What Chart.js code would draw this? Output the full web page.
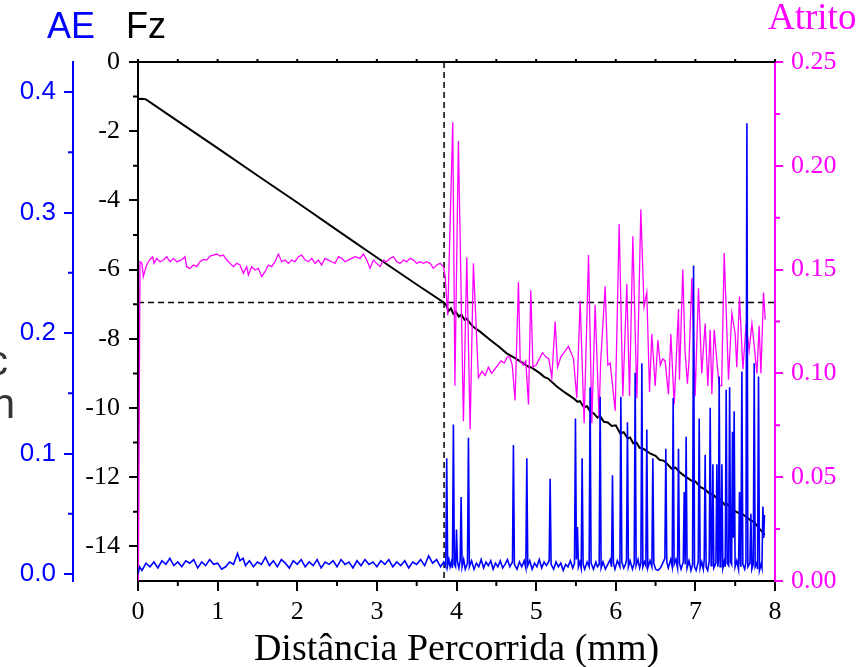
<!DOCTYPE html>
<html>
<head>
<meta charset="utf-8">
<script src="https://cdn.jsdelivr.net/npm/chart.js@4.4.1/dist/chart.umd.min.js"></script>
<style>
  html, body { margin: 0; padding: 0; background: #fff; }
  canvas { display: block; }
</style>
</head>
<body>
<canvas id="grafico" width="867" height="667"></canvas>
<script>
// Ensaio de risco: AE, Fz e atrito contra a distância percorrida.

// ---- Dados: [distância (mm), valor] ----
var fz = [
  [0, -1.07], [0.05, -1.06], [0.10, -1.08], [0.5, -1.71], [1.0, -2.49], [1.5, -3.28],
  [2.0, -4.06], [2.5, -4.86], [3.0, -5.65], [3.5, -6.43], [3.84, -6.95],
  [3.87, -7.02], [3.90, -7.20], [3.93, -7.12], [3.96, -7.28], [3.99, -7.22], [4.03, -7.36],
  [4.06, -7.30], [4.10, -7.45], [4.13, -7.42], [4.17, -7.55], [4.21, -7.65], [4.30, -7.80],
  [4.42, -8.03], [4.53, -8.22], [4.63, -8.42], [4.73, -8.55], [4.84, -8.71], [4.90, -8.80],
  [4.95, -8.84], [5.05, -9.00], [5.10, -9.10], [5.15, -9.15], [5.26, -9.38], [5.36, -9.55],
  [5.47, -9.72], [5.52, -9.82], [5.55, -9.80], [5.60, -9.98], [5.64, -9.95], [5.68, -10.11],
  [5.72, -10.15], [5.77, -10.28], [5.80, -10.22], [5.85, -10.40], [5.90, -10.42], [5.95, -10.52],
  [6.00, -10.50], [6.055, -10.73], [6.10, -10.70], [6.15, -10.88], [6.18, -10.85], [6.22, -11.02],
  [6.26, -11.00], [6.30, -11.15], [6.35, -11.18], [6.43, -11.31], [6.50, -11.38], [6.55, -11.50],
  [6.60, -11.52], [6.64, -11.60], [6.70, -11.75], [6.75, -11.72], [6.80, -11.85], [6.85, -11.94],
  [6.90, -12.02], [6.95, -12.10], [7.00, -12.12], [7.06, -12.28], [7.12, -12.35], [7.18, -12.48],
  [7.22, -12.50], [7.27, -12.61], [7.32, -12.66], [7.37, -12.80], [7.40, -12.78], [7.48, -12.95],
  [7.53, -13.02], [7.58, -13.05], [7.64, -13.15], [7.69, -13.24], [7.74, -13.30], [7.80, -13.48],
  [7.85, -13.60], [7.87, -13.67]
];

var atrito = [
  [0.005, 0.000], [0.025, 0.1538], [0.05, 0.1530], [0.067, 0.1466], [0.10, 0.1514], [0.13, 0.1538],
  [0.151, 0.1549], [0.184, 0.1562], [0.201, 0.1530], [0.234, 0.1554], [0.276, 0.1538], [0.318, 0.1546],
  [0.36, 0.1562], [0.402, 0.1538], [0.444, 0.1554], [0.486, 0.1538], [0.528, 0.1543], [0.57, 0.1554],
  [0.59, 0.1562], [0.611, 0.1514], [0.653, 0.1506], [0.695, 0.1522], [0.737, 0.1514], [0.779, 0.1538],
  [0.821, 0.1549], [0.863, 0.1546], [0.905, 0.1565], [0.946, 0.1570], [0.988, 0.1575], [1.03, 0.1565],
  [1.072, 0.1570], [1.114, 0.1546], [1.156, 0.1530], [1.198, 0.1514], [1.24, 0.1530], [1.281, 0.1522],
  [1.323, 0.1482], [1.365, 0.1514], [1.386, 0.1474], [1.428, 0.1514], [1.47, 0.1498], [1.512, 0.1506],
  [1.554, 0.1466], [1.595, 0.1490], [1.637, 0.1522], [1.679, 0.1514], [1.721, 0.1538], [1.763, 0.1575],
  [1.805, 0.1538], [1.847, 0.1546], [1.889, 0.1530], [1.93, 0.1546], [1.972, 0.1538], [2.014, 0.1562],
  [2.056, 0.1570], [2.098, 0.1546], [2.14, 0.1538], [2.182, 0.1554], [2.224, 0.1530], [2.266, 0.1546],
  [2.307, 0.1522], [2.349, 0.1554], [2.391, 0.1546], [2.433, 0.1538], [2.475, 0.1530], [2.517, 0.1562],
  [2.559, 0.1554], [2.601, 0.1538], [2.642, 0.1546], [2.684, 0.1554], [2.726, 0.1562], [2.789, 0.1554],
  [2.831, 0.1575], [2.873, 0.1546], [2.914, 0.1506], [2.956, 0.1546], [2.998, 0.1530], [3.04, 0.1514],
  [3.082, 0.1546], [3.124, 0.1538], [3.166, 0.1554], [3.208, 0.1562], [3.25, 0.1538], [3.291, 0.1530],
  [3.333, 0.1546], [3.375, 0.1538], [3.417, 0.1554], [3.459, 0.1546], [3.501, 0.1530], [3.543, 0.1538],
  [3.585, 0.1530], [3.626, 0.1538], [3.668, 0.1530], [3.71, 0.1506], [3.752, 0.1522], [3.794, 0.1530],
  [3.836, 0.1514], [3.857, 0.147], [3.89, 0.128], [3.953, 0.221], [3.98, 0.094], [4.024, 0.212],
  [4.087, 0.077], [4.129, 0.156], [4.171, 0.073], [4.212, 0.153], [4.275, 0.098], [4.32, 0.101],
  [4.36, 0.099], [4.40, 0.103], [4.44, 0.100], [4.48, 0.102], [4.52, 0.104], [4.56, 0.106],
  [4.60, 0.105], [4.64, 0.108], [4.67, 0.108], [4.70, 0.104], [4.736, 0.087], [4.778, 0.144],
  [4.80, 0.106], [4.84, 0.104], [4.87, 0.106], [4.904, 0.085], [4.933, 0.140], [4.96, 0.103],
  [5.00, 0.104], [5.04, 0.107], [5.08, 0.110], [5.12, 0.108], [5.16, 0.107], [5.197, 0.098],
  [5.239, 0.125], [5.27, 0.103], [5.31, 0.108], [5.35, 0.110], [5.406, 0.113], [5.44, 0.110],
  [5.469, 0.107], [5.511, 0.088], [5.553, 0.135], [5.603, 0.076], [5.658, 0.157], [5.70, 0.076],
  [5.741, 0.133], [5.79, 0.079], [5.81, 0.105], [5.867, 0.142], [5.90, 0.104], [5.93, 0.105],
  [5.993, 0.082], [6.043, 0.172], [6.089, 0.089], [6.139, 0.143], [6.173, 0.089], [6.215, 0.166],
  [6.265, 0.088], [6.315, 0.179], [6.355, 0.132], [6.39, 0.139], [6.424, 0.091], [6.453, 0.119],
  [6.495, 0.094], [6.529, 0.116], [6.56, 0.104], [6.59, 0.107], [6.62, 0.106], [6.662, 0.090],
  [6.692, 0.119], [6.734, 0.085], [6.788, 0.131], [6.80, 0.097], [6.842, 0.150], [6.87, 0.111],
  [6.90, 0.095], [6.92, 0.106], [6.956, 0.146], [6.997, 0.089], [7.039, 0.141], [7.08, 0.100],
  [7.123, 0.124], [7.157, 0.094], [7.186, 0.121], [7.207, 0.090], [7.236, 0.121], [7.27, 0.106],
  [7.299, 0.094], [7.33, 0.094], [7.362, 0.158], [7.39, 0.127], [7.416, 0.097], [7.458, 0.129],
  [7.50, 0.119], [7.52, 0.103], [7.554, 0.137], [7.597, 0.102], [7.638, 0.124], [7.675, 0.111],
  [7.71, 0.124], [7.74, 0.113], [7.773, 0.100], [7.801, 0.123], [7.823, 0.100], [7.856, 0.139],
  [7.877, 0.126]
];

var ae = [
  [0, 0.000], [0.02, 0.006], [0.05, 0.003], [0.10, 0.009], [0.15, 0.006], [0.20, 0.010], [0.25, 0.005],
  [0.30, 0.011], [0.35, 0.008], [0.40, 0.013], [0.45, 0.007], [0.50, 0.010], [0.55, 0.006], [0.60, 0.011],
  [0.65, 0.009], [0.70, 0.012], [0.75, 0.005], [0.80, 0.010], [0.85, 0.007], [0.90, 0.012], [0.95, 0.008],
  [1.00, 0.009], [1.05, 0.004], [1.10, 0.006], [1.15, 0.010], [1.20, 0.008], [1.25, 0.017], [1.28, 0.011],
  [1.32, 0.013], [1.35, 0.007], [1.40, 0.011], [1.45, 0.006], [1.50, 0.010], [1.55, 0.008], [1.60, 0.014],
  [1.65, 0.007], [1.70, 0.011], [1.75, 0.006], [1.80, 0.012], [1.85, 0.009], [1.90, 0.005], [1.95, 0.011],
  [2.00, 0.008], [2.05, 0.012], [2.10, 0.006], [2.15, 0.010], [2.20, 0.007], [2.25, 0.012], [2.30, 0.005],
  [2.35, 0.010], [2.40, 0.008], [2.45, 0.011], [2.50, 0.006], [2.55, 0.012], [2.60, 0.008], [2.65, 0.010],
  [2.70, 0.005], [2.75, 0.011], [2.80, 0.007], [2.85, 0.012], [2.90, 0.008], [2.95, 0.010], [3.00, 0.006],
  [3.05, 0.011], [3.10, 0.008], [3.15, 0.012], [3.20, 0.006], [3.25, 0.010], [3.30, 0.007], [3.35, 0.011],
  [3.40, 0.005], [3.45, 0.010], [3.50, 0.008], [3.55, 0.012], [3.60, 0.007], [3.65, 0.015], [3.70, 0.009],
  [3.75, 0.012], [3.80, 0.006], [3.84, 0.010], [3.865, 0.006], [3.877, 0.096], [3.889, 0.007],
  [3.905, 0.012], [3.92, 0.006], [3.935, 0.010], [3.949, 0.005], [3.961, 0.124], [3.973, 0.008],
  [3.988, 0.006], [4.000, 0.037], [4.012, 0.010], [4.030, 0.005], [4.046, 0.011], [4.058, 0.064],
  [4.070, 0.006], [4.09, 0.012], [4.11, 0.004], [4.138, 0.009], [4.150, 0.113], [4.162, 0.006],
  [4.19, 0.011], [4.22, 0.004], [4.25, 0.009], [4.28, 0.006], [4.31, 0.012], [4.34, 0.005],
  [4.37, 0.010], [4.40, 0.007], [4.43, 0.011], [4.46, 0.004], [4.49, 0.009], [4.52, 0.006],
  [4.55, 0.011], [4.58, 0.005], [4.61, 0.008], [4.64, 0.012], [4.67, 0.006], [4.703, 0.010],
  [4.715, 0.107], [4.727, 0.008], [4.76, 0.004], [4.79, 0.010], [4.82, 0.006], [4.85, 0.011],
  [4.871, 0.005], [4.883, 0.096], [4.895, 0.007], [4.92, 0.011], [4.95, 0.004], [4.98, 0.009],
  [5.01, 0.006], [5.04, 0.012], [5.07, 0.005], [5.10, 0.010], [5.13, 0.007], [5.164, 0.011],
  [5.176, 0.079], [5.188, 0.008], [5.22, 0.004], [5.25, 0.010], [5.28, 0.006], [5.31, 0.009],
  [5.34, 0.003], [5.37, 0.008], [5.40, 0.006], [5.43, 0.011], [5.46, 0.005], [5.482, 0.009],
  [5.494, 0.129], [5.506, 0.012], [5.519, 0.039], [5.531, 0.006], [5.55, 0.010], [5.566, 0.005],
  [5.578, 0.096], [5.590, 0.008], [5.61, 0.004], [5.64, 0.010], [5.666, 0.006], [5.678, 0.155],
  [5.690, 0.009], [5.72, 0.004], [5.75, 0.010], [5.77, 0.006], [5.792, 0.008], [5.804, 0.147],
  [5.816, 0.005], [5.84, 0.010], [5.87, 0.004], [5.90, 0.008], [5.93, 0.012], [5.947, 0.006],
  [5.959, 0.082], [5.971, 0.009], [5.99, 0.004], [6.02, 0.011], [6.052, 0.006], [6.064, 0.147],
  [6.076, 0.010], [6.10, 0.005], [6.122, 0.008], [6.135, 0.012], [6.147, 0.126], [6.159, 0.006],
  [6.18, 0.011], [6.21, 0.004], [6.232, 0.009], [6.244, 0.167], [6.256, 0.007], [6.28, 0.012],
  [6.30, 0.005], [6.316, 0.009], [6.328, 0.175], [6.340, 0.006], [6.36, 0.010], [6.378, 0.007],
  [6.390, 0.120], [6.402, 0.005], [6.43, 0.011], [6.454, 0.006], [6.466, 0.096], [6.478, 0.009],
  [6.50, 0.004], [6.53, 0.003], [6.56, 0.005], [6.59, 0.009], [6.617, 0.013], [6.629, 0.104],
  [6.641, 0.010], [6.66, 0.005], [6.69, 0.012], [6.709, 0.006], [6.721, 0.146], [6.733, 0.008],
  [6.755, 0.012], [6.776, 0.005], [6.788, 0.104], [6.800, 0.009], [6.82, 0.004], [6.848, 0.010],
  [6.860, 0.068], [6.872, 0.008], [6.884, 0.114], [6.896, 0.005], [6.92, 0.011], [6.945, 0.003],
  [6.965, 0.008], [6.977, 0.256], [6.989, 0.006], [7.01, 0.003], [7.036, 0.010], [7.048, 0.129],
  [7.060, 0.005], [7.08, 0.010], [7.10, 0.004], [7.111, 0.012], [7.123, 0.099], [7.135, 0.006],
  [7.155, 0.003], [7.174, 0.011], [7.186, 0.138], [7.198, 0.007], [7.208, 0.010], [7.220, 0.091],
  [7.232, 0.005], [7.258, 0.009], [7.270, 0.091], [7.282, 0.006], [7.289, 0.012], [7.299, 0.164],
  [7.311, 0.006], [7.321, 0.010], [7.333, 0.091], [7.345, 0.005], [7.365, 0.011], [7.375, 0.006],
  [7.387, 0.153], [7.399, 0.009], [7.418, 0.007], [7.430, 0.155], [7.442, 0.010], [7.455, 0.008],
  [7.466, 0.118], [7.476, 0.030], [7.487, 0.135], [7.499, 0.006], [7.52, 0.011], [7.542, 0.004],
  [7.554, 0.068], [7.566, 0.009], [7.572, 0.006], [7.584, 0.168], [7.596, 0.008], [7.62, 0.004],
  [7.635, 0.010], [7.647, 0.374], [7.659, 0.006], [7.685, 0.009], [7.697, 0.050], [7.709, 0.004],
  [7.727, 0.008], [7.739, 0.175], [7.751, 0.006], [7.770, 0.009], [7.781, 0.004], [7.793, 0.164],
  [7.805, 0.003], [7.825, 0.008], [7.836, 0.005], [7.848, 0.056], [7.858, 0.030], [7.868, 0.049]
];

// linhas tracejadas de referência
var corteDistancia = 3.844;
var corteFz = -6.95;

// rótulos dos eixos
var ticksX = [0, 1, 2, 3, 4, 5, 6, 7, 8];
var ticksFz = [0, -2, -4, -6, -8, -10, -12, -14];
var ticksAE = [0, 0.1, 0.2, 0.3, 0.4];
var ticksAtrito = [0, 0.05, 0.10, 0.15, 0.20, 0.25];

(function () {
  var SERIF = "'Liberation Serif', 'Times New Roman', serif";
  var SANS = "'Liberation Sans', Arial, sans-serif";
  var AZUL = '#0000ff', ROSA = '#ff00ff', PRETO = '#000000';

  var pts = function (arr) { return arr.map(function (p) { return { x: p[0], y: p[1] }; }); };
  var fixar = function (lista) { return function (s) { s.ticks = lista.map(function (v) { return { value: v }; }); }; };
  // marcas menores: ponto médio entre marcas principais
  var meios = function (lista) {
    var r = [];
    for (var i = 0; i < lista.length - 1; i++) r.push((lista[i] + lista[i + 1]) / 2);
    return r;
  };

  function linha(dados, cor, largura, eixo, extra) {
    var d = { data: pts(dados), borderColor: cor, borderWidth: largura, pointRadius: 0, tension: 0,
      showLine: true, fill: false, yAxisID: eixo };
    for (var k in extra) d[k] = extra[k];
    return d;
  }

  // ---- Textos e marcas menores que o Chart.js não desenha sozinho ----
  var extras = {
    id: 'extras',
    afterDraw: function (chart) {
      var ctx = chart.ctx, a = chart.chartArea, sc = chart.scales;
      ctx.save();
      ctx.lineWidth = 2;

      // borda superior com marquinhas
      ctx.strokeStyle = PRETO;
      ctx.beginPath();
      ctx.moveTo(a.left, a.top); ctx.lineTo(a.right, a.top);
      ticksX.concat(meios(ticksX)).forEach(function (v) {
        var px = sc.x.getPixelForValue(v);
        ctx.moveTo(px, a.top); ctx.lineTo(px, a.top - 3);
      });
      ctx.stroke();

      // eixo x: menores para baixo
      ctx.beginPath();
      meios(ticksX).forEach(function (v) {
        var px = sc.x.getPixelForValue(v);
        ctx.moveTo(px, a.bottom); ctx.lineTo(px, a.bottom + 5);
      });
      // Fz
      meios(ticksFz).forEach(function (v) {
        var py = sc.yFz.getPixelForValue(v);
        ctx.moveTo(a.left, py); ctx.lineTo(a.left - 5, py);
      });
      ctx.stroke();

      // AE
      ctx.strokeStyle = AZUL;
      ctx.beginPath();
      meios(ticksAE).forEach(function (v) {
        var py = sc.yAE.getPixelForValue(v);
        ctx.moveTo(sc.yAE.right, py); ctx.lineTo(sc.yAE.right - 5, py);
      });
      ctx.stroke();

      // Atrito
      ctx.strokeStyle = ROSA;
      ctx.beginPath();
      meios(ticksAtrito).forEach(function (v) {
        var py = sc.yAt.getPixelForValue(v);
        ctx.moveTo(a.right, py); ctx.lineTo(a.right + 5, py);
      });
      ctx.stroke();

      // títulos
      ctx.textBaseline = 'alphabetic';
      ctx.textAlign = 'left';
      ctx.font = '36px ' + SANS;
      ctx.fillStyle = AZUL; ctx.fillText('AE', 47, 38);
      ctx.fillStyle = PRETO; ctx.fillText('Fz', 126, 38);
      ctx.font = '37px ' + SERIF;
      ctx.fillStyle = ROSA; ctx.fillText('Atrito', 768, 29);
      ctx.fillStyle = PRETO;
      ctx.textAlign = 'center';
      ctx.font = '38px ' + SERIF;
      ctx.fillText('Distância Percorrida (mm)', (a.left + a.right) / 2, 660);

      // restos de um rótulo cortado na borda esquerda
      ctx.fillStyle = '#333';
      ctx.textAlign = 'right';
      ctx.font = '42px ' + SANS;
      ctx.fillText('c', 8, 375);
      ctx.fillText('n', 15, 418);
      ctx.restore();
    }
  };

  var fonteSerif = { family: SERIF, size: 26 };
  var fonteSans = { family: SANS, size: 26 };

  new Chart(document.getElementById('grafico').getContext('2d'), {
    type: 'scatter',
    data: {
      datasets: [
        linha(ae, AZUL, 1.6, 'yAE'),
        linha(atrito, ROSA, 1.3, 'yAt'),
        linha(fz, PRETO, 2, 'yFz'),
        linha([[corteDistancia, 0], [corteDistancia, -15]], PRETO, 1.5, 'yFz', { borderDash: [6, 4] }),
        linha([[0, corteFz], [8, corteFz]], PRETO, 1.5, 'yFz', { borderDash: [6, 4] })
      ]
    },
    options: {
      responsive: false,
      animation: false,
      devicePixelRatio: 1,
      layout: { padding: { top: 62, left: 0, right: 0, bottom: 0 } },
      plugins: { legend: { display: false }, tooltip: { enabled: false } },
      scales: {
        x: {
          type: 'linear', position: 'bottom', min: 0, max: 8,
          afterBuildTicks: fixar(ticksX),
          afterFit: function (s) { s.height = 86; },
          grid: { drawOnChartArea: false, color: PRETO, lineWidth: 2, tickLength: 10 },
          border: { color: PRETO, width: 2 },
          ticks: { font: fonteSerif, color: PRETO, padding: 6, maxRotation: 0, autoSkip: false }
        },
        yFz: {
          type: 'linear', position: 'left', weight: 0, min: -15, max: 0,
          afterBuildTicks: fixar(ticksFz),
          afterFit: function (s) { s.width = 65; },
          grid: { drawOnChartArea: false, color: PRETO, lineWidth: 2, tickLength: 9 },
          border: { color: PRETO, width: 2 },
          ticks: { font: fonteSerif, color: PRETO, padding: 9, autoSkip: false }
        },
        yAE: {
          type: 'linear', position: 'left', weight: 1, min: -0.0058, max: 0.4249,
          afterBuildTicks: fixar(ticksAE),
          afterFit: function (s) { s.width = 73; },
          grid: { drawOnChartArea: false, color: AZUL, lineWidth: 2, tickLength: 9 },
          border: { color: AZUL, width: 2 },
          ticks: { font: fonteSans, color: AZUL, padding: 8, autoSkip: false,
            callback: function (v) { return Number(v).toFixed(1); } }
        },
        yAt: {
          type: 'linear', position: 'right', min: 0, max: 0.25,
          afterBuildTicks: fixar(ticksAtrito),
          afterFit: function (s) { s.width = 92; },
          grid: { drawOnChartArea: false, color: ROSA, lineWidth: 2, tickLength: 8 },
          border: { color: ROSA, width: 2 },
          ticks: { font: fonteSerif, color: ROSA, padding: 8, autoSkip: false,
            callback: function (v) { return Number(v).toFixed(2); } }
        }
      }
    },
    plugins: [extras]
  });
})();
</script>
</body>
</html>
